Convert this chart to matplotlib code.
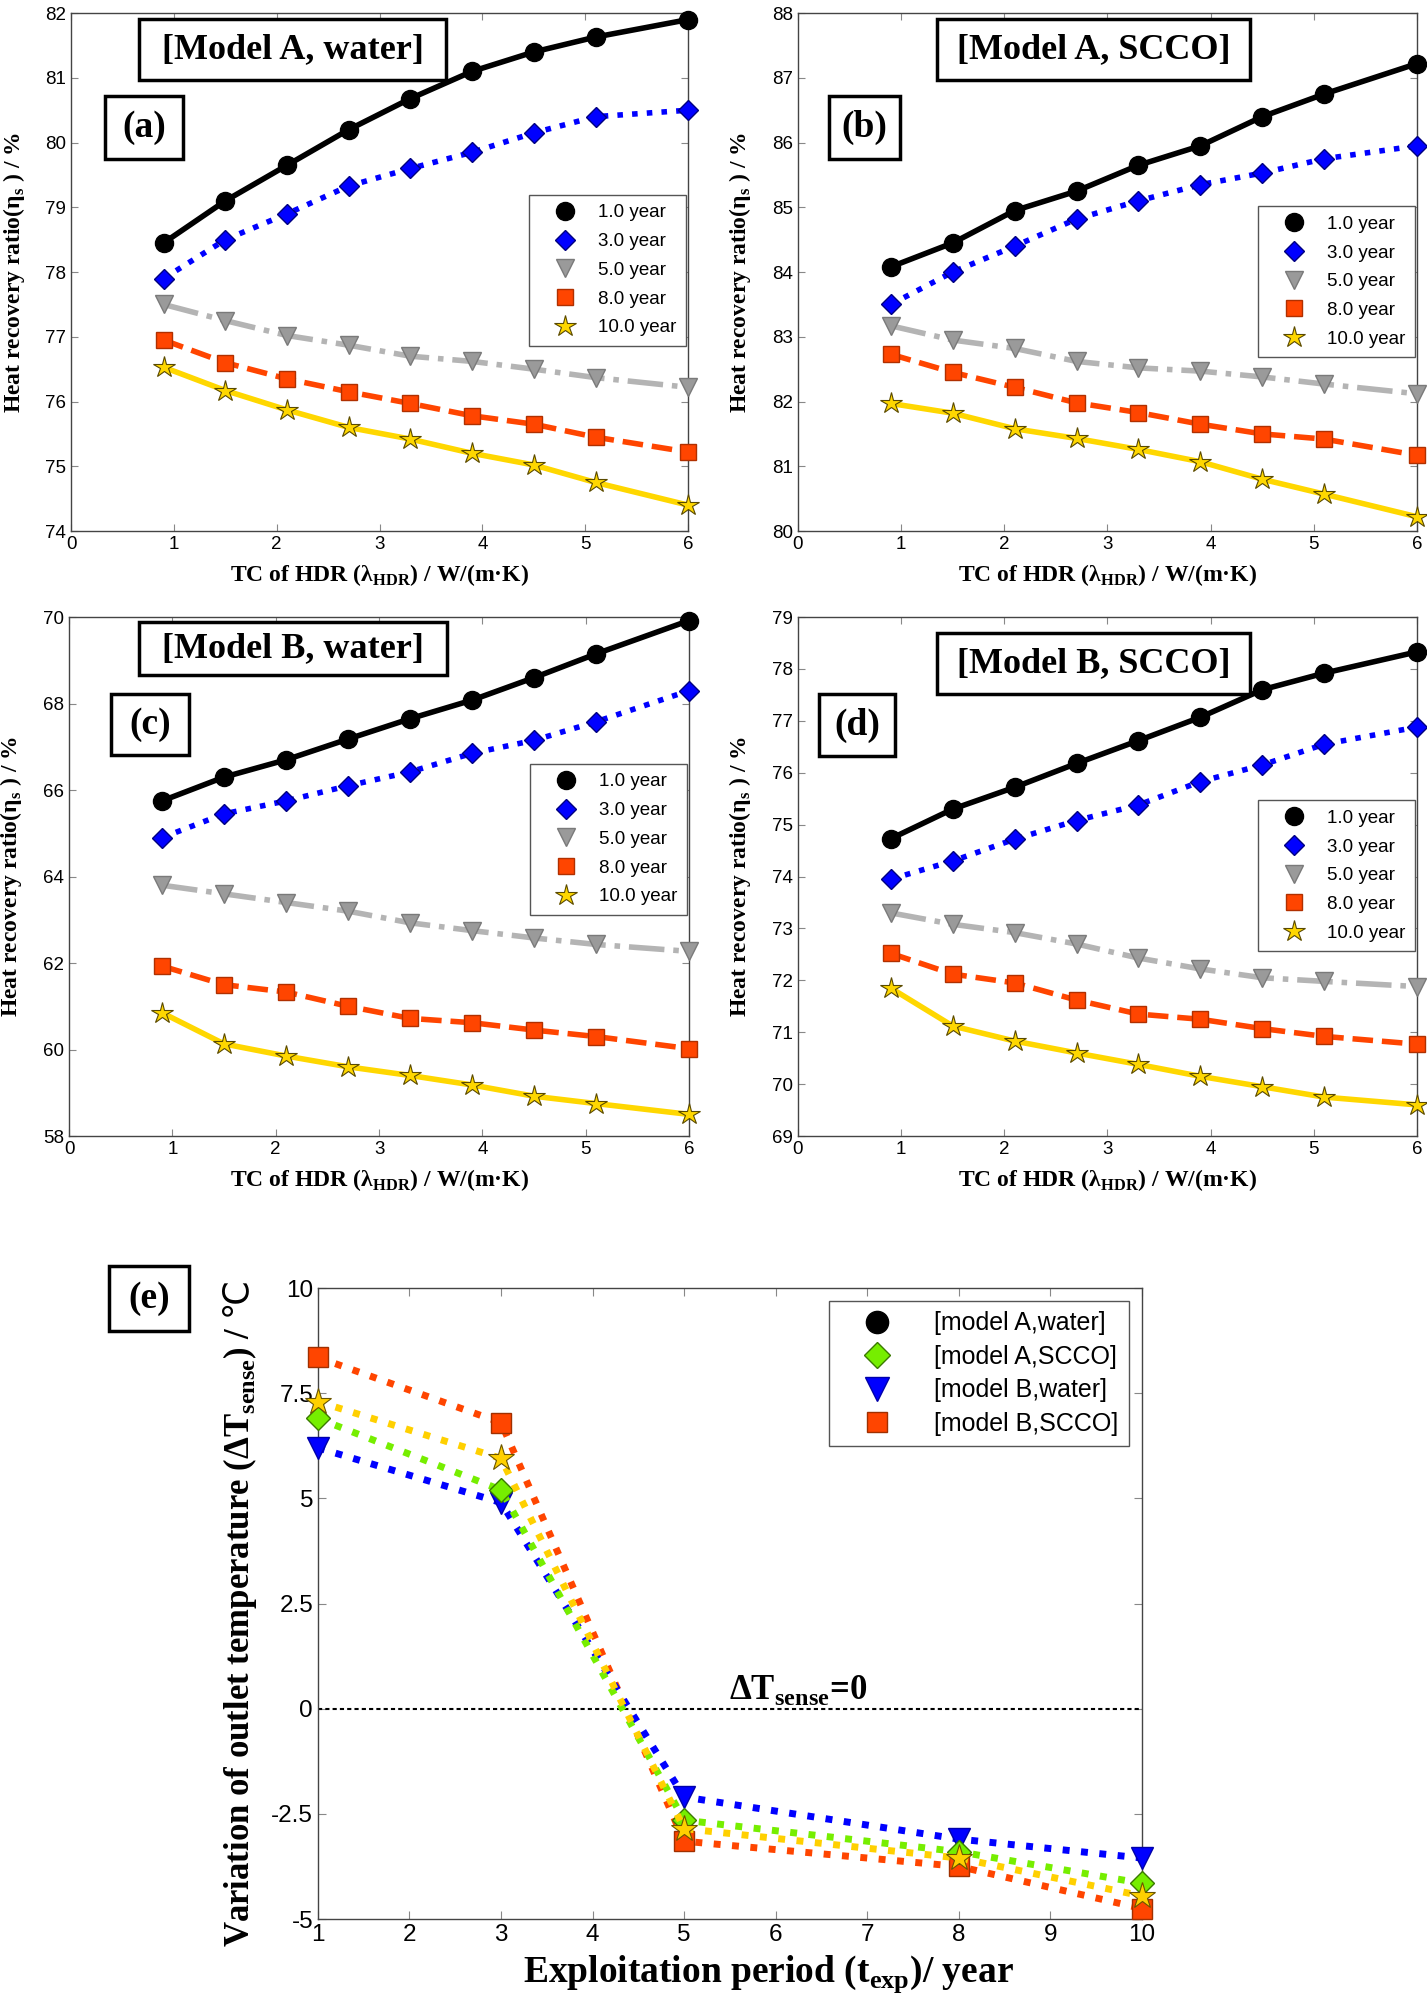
import matplotlib.pyplot as plt
from matplotlib.lines import Line2D
from matplotlib.patches import Rectangle

plt.rcParams['font.family'] = ['Liberation Sans Narrow', 'Liberation Sans', 'DejaVu Sans']
plt.rcParams['axes.linewidth'] = 1.0
plt.rcParams['axes.edgecolor'] = '#444444'

# TC of HDR (x of panels a-d)
tc = [0.9, 1.5, 2.1, 2.7, 3.3, 3.9, 4.5, 5.1, 6.0]
year_labels = ["1.0 year", "3.0 year", "5.0 year", "8.0 year", "10.0 year"]

# (a) Model A, water
a_y1 = [78.45, 79.1, 79.65, 80.2, 80.68, 81.1, 81.4, 81.63, 81.9]
a_y3 = [77.9, 78.5, 78.9, 79.33, 79.6, 79.85, 80.15, 80.4, 80.5]
a_y5 = [77.5, 77.25, 77.02, 76.87, 76.7, 76.62, 76.5, 76.37, 76.22]
a_y8 = [76.95, 76.6, 76.35, 76.15, 75.97, 75.78, 75.65, 75.45, 75.22]
a_y10 = [76.53, 76.17, 75.87, 75.6, 75.42, 75.2, 75.02, 74.75, 74.4]

# (b) Model A, SCCO
b_y1 = [84.08, 84.45, 84.95, 85.25, 85.65, 85.95, 86.4, 86.75, 87.22]
b_y3 = [83.5, 84.0, 84.4, 84.82, 85.1, 85.35, 85.53, 85.75, 85.95]
b_y5 = [83.17, 82.95, 82.82, 82.62, 82.52, 82.47, 82.38, 82.27, 82.12]
b_y8 = [82.73, 82.45, 82.22, 81.98, 81.83, 81.65, 81.5, 81.42, 81.17]
b_y10 = [81.97, 81.82, 81.58, 81.43, 81.26, 81.07, 80.8, 80.57, 80.22]

# (c) Model B, water
c_y1 = [65.75, 66.3, 66.7, 67.18, 67.65, 68.08, 68.6, 69.15, 69.92]
c_y3 = [64.9, 65.45, 65.75, 66.1, 66.42, 66.85, 67.15, 67.58, 68.3]
c_y5 = [63.8, 63.6, 63.4, 63.2, 62.93, 62.75, 62.58, 62.43, 62.27]
c_y8 = [61.93, 61.5, 61.33, 61.0, 60.72, 60.62, 60.45, 60.3, 60.02]
c_y10 = [60.85, 60.13, 59.85, 59.6, 59.4, 59.18, 58.92, 58.75, 58.5]

# (d) Model B, SCCO
d_y1 = [74.73, 75.3, 75.72, 76.18, 76.62, 77.07, 77.6, 77.92, 78.33]
d_y3 = [73.95, 74.3, 74.72, 75.08, 75.38, 75.83, 76.15, 76.55, 76.88]
d_y5 = [73.3, 73.08, 72.92, 72.7, 72.43, 72.22, 72.05, 71.98, 71.88]
d_y8 = [72.52, 72.12, 71.95, 71.62, 71.35, 71.25, 71.07, 70.92, 70.77]
d_y10 = [71.85, 71.12, 70.83, 70.6, 70.38, 70.15, 69.95, 69.75, 69.6]

# (e) outlet temperature variation
t_exp = [1, 3, 5, 8, 10]
e_B_water = [6.2, 4.9, -2.1, -3.1, -3.55]
e_A_scco = [6.9, 5.2, -2.65, -3.4, -4.15]
e_A_water = [7.3, 5.95, -2.85, -3.55, -4.45]
e_B_scco = [8.35, 6.8, -3.15, -3.75, -4.75]
e_labels = ["[model A,water]", "[model A,SCCO]", "[model B,water]", "[model B,SCCO]"]

styles = [
    dict(color='black', ls='-', marker='o', mfc='black', mec='black', ms=13),
    dict(color='#0000ff', ls=':', marker='D', mfc='#0000ff', mec='#000080', ms=10),
    dict(color='#b4b4b4', ls='-.', marker='v', mfc='#9a9a9a', mec='#7a7a7a', ms=13),
    dict(color='#ff4500', ls='--', marker='s', mfc='#ff4500', mec='#b03000', ms=11),
    dict(color='#ffd700', ls='-', marker='*', mfc='#ffd700', mec='#5a4a00', ms=16, mew=0.8),
]

serif = dict(family=['Liberation Serif', 'DejaVu Sans'], weight='bold')


def boxed(ax, x0, y0, x1, y1, txt, fs, trans=None):
    if trans is None:
        trans = ax.transAxes
    ax.add_artist(Rectangle((x0, y0), x1 - x0, y1 - y0, transform=trans, fc='white',
                            ec='black', lw=2.5, zorder=5))
    ax.text((x0 + x1) / 2, (y0 + y1) / 2, txt, transform=trans, ha='center', va='center',
            fontsize=fs, zorder=6, **serif)


def panel(ax, series, ylim, title, tbox, label, lbox, leg_top):
    for ys, st in zip(series, styles):
        ax.plot(tc, ys, lw=4, clip_on=False, zorder=3, **st)
    ax.set_xlim(0, 6)
    ax.set_ylim(*ylim)
    ax.set_xticks(range(0, 7))
    ax.set_yticks(range(ylim[0], ylim[1] + 1))
    ax.tick_params(direction='in', top=True, right=True, labelsize=13.5, length=5, color='#888888')
    ax.set_xlabel("TC of HDR (λ$_\\mathregular{HDR}$) / W/(m·K)", fontsize=17, **serif)
    ax.set_ylabel("Heat recovery ratio(η$_\\mathregular{s}$ ) / %", fontsize=17, **serif)
    ax.yaxis.set_label_coords(-0.072, 0.5)
    ax.xaxis.set_label_coords(0.5, -0.06)
    boxed(ax, *tbox, title, 26)
    boxed(ax, *lbox, label, 27)
    handles = [Line2D([], [], ls='none', **{k: v for k, v in st.items() if k not in ('color', 'ls')})
               for st in styles]
    leg = ax.legend(handles, year_labels, loc='upper right', bbox_to_anchor=(0.997, leg_top),
                    borderaxespad=0, fontsize=13.5, frameon=True, fancybox=False, framealpha=1,
                    edgecolor='#555555', labelspacing=0.62, handletextpad=0.4, borderpad=0.5,
                    handlelength=2.8)
    leg.set_zorder(7)


fig = plt.figure(figsize=(14.27, 20.16), dpi=100)

ax_a = fig.add_axes([0.0498, 0.7366, 0.4324, 0.2569])
ax_b = fig.add_axes([0.5592, 0.7366, 0.4338, 0.2569])
ax_c = fig.add_axes([0.0484, 0.4365, 0.4345, 0.2574])
ax_d = fig.add_axes([0.5592, 0.4365, 0.4338, 0.2574])

panel(ax_a, [a_y1, a_y3, a_y5, a_y8, a_y10], (74, 82), "[Model A, water]",
      (0.11, 0.871, 0.608, 0.988), "(a)", (0.055, 0.718, 0.1815, 0.84), 0.649)
panel(ax_b, [b_y1, b_y3, b_y5, b_y8, b_y10], (80, 88), "[Model A, SCCO]",
      (0.2246, 0.871, 0.73, 0.988), "(b)", (0.05, 0.718, 0.165, 0.84), 0.627)
panel(ax_c, [c_y1, c_y3, c_y5, c_y8, c_y10], (58, 70), "[Model B, water]",
      (0.113, 0.888, 0.61, 0.99), "(c)", (0.068, 0.734, 0.194, 0.852), 0.717)
ax_c.set_yticks(range(58, 71, 2))
panel(ax_d, [d_y1, d_y3, d_y5, d_y8, d_y10], (69, 79), "[Model B, SCCO]",
      (0.2246, 0.852, 0.73, 0.969), "(d)", (0.034, 0.732, 0.157, 0.852), 0.647)

# (e)
ax_e = fig.add_axes([0.2228, 0.0481, 0.5774, 0.313])
e_styles = [
    (e_B_scco, dict(color='#ff4500', marker='s', mfc='#ff4500', mec='#a03000', ms=14)),
    (e_B_water, dict(color='#0000ff', marker='v', mfc='#0000ff', mec='#0000aa', ms=16)),
    (e_A_scco, dict(color='#76ee00', marker='D', mfc='#76ee00', mec='#3a7a00', ms=12)),
    (e_A_water, dict(color='#ffd000', marker='*', mfc='#ffd000', mec='#6a5500', ms=20, mew=0.8)),
]
for ys, st in e_styles:
    ax_e.plot(t_exp, ys, ls=':', lw=5, clip_on=False, zorder=3, **st)
ax_e.axhline(0, color='black', ls=(0, (2, 1.5)), lw=1.5, zorder=2)
ax_e.text(5.49, 0.05, "ΔT$_\\mathregular{sense}$=0", fontsize=25, ha='left', va='bottom', **serif)
ax_e.set_xlim(1, 10)
ax_e.set_ylim(-5, 10)
ax_e.set_xticks(range(1, 11))
ax_e.set_yticks([-5, -2.5, 0, 2.5, 5, 7.5, 10])
ax_e.set_yticklabels(["-5", "-2.5", "0", "2.5", "5", "7.5", "10"])
ax_e.tick_params(direction='in', top=True, right=True, labelsize=17.5, length=6, color='#888888')
ax_e.set_xlabel("Exploitation period (t$_\\mathregular{exp}$)/ year", fontsize=27, **serif)
# ℃ via \mathrm so that DejaVu Sans draws it (Liberation Serif has no glyph)
ax_e.set_ylabel("Variation of outlet temperature (ΔT$_\\mathregular{sense}$) / $\\mathrm{℃}$",
                fontsize=25, **serif)
ax_e.yaxis.set_label_coords(-0.072, 0.483)
ax_e.xaxis.set_label_coords(0.547, -0.055)

e_handles = [
    Line2D([], [], ls='none', marker='o', mfc='black', mec='black', ms=16),
    Line2D([], [], ls='none', marker='D', mfc='#76ee00', mec='#3a7a00', ms=13),
    Line2D([], [], ls='none', marker='v', mfc='#0000ff', mec='#0000aa', ms=17),
    Line2D([], [], ls='none', marker='s', mfc='#ff4500', mec='#a03000', ms=15),
]
leg = ax_e.legend(e_handles, e_labels, loc='upper right', bbox_to_anchor=(0.984, 0.979),
                  borderaxespad=0, fontsize=18, frameon=True, fancybox=False, framealpha=1,
                  edgecolor='#555555', labelspacing=0.38, handletextpad=0.8, borderpad=0.4,
                  handlelength=3.0)
leg.set_zorder(7)

boxed(fig, 0.0764, 0.3398, 0.1324, 0.372, "(e)", 27, trans=fig.transFigure)

fig.savefig("out.png", dpi=100)
